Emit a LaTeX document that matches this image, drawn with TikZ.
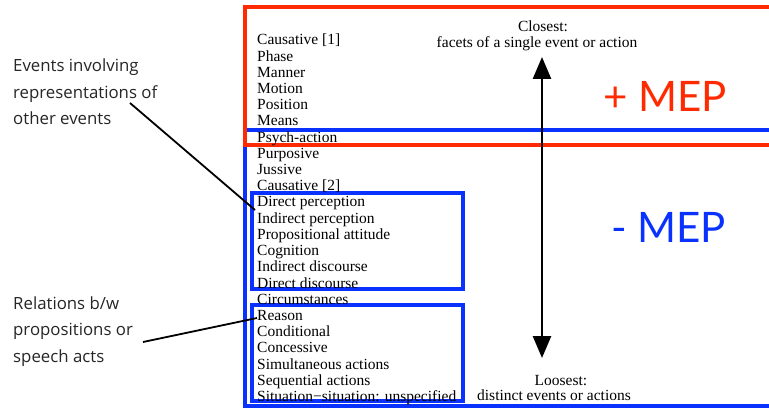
\documentclass[tikz,border=0pt]{standalone}
\usepackage{fontspec}
\setmainfont{Liberation Serif}
\newfontfamily\labelfont{Open Sans}
\newfontfamily\mepfont{Lato}
\usetikzlibrary{arrows.meta}
\definecolor{mepred}{HTML}{FF2A00}
\definecolor{mepblue}{HTML}{0A32FF}
\begin{document}
\begin{tikzpicture}[x=1pt,y=-1pt,
  item/.style={anchor=base west,inner sep=0pt,font=\fontsize{15.5}{16}\selectfont},
  scalecap/.style={anchor=base,inner sep=0pt,font=\fontsize{15.5}{16}\selectfont},
  side/.style={anchor=base west,inner sep=0pt,font=\labelfont\fontsize{16.8}{20}\selectfont,text=black!85},
  mep/.style={anchor=base west,inner sep=0pt,font=\mepfont\fontsize{42}{42}\selectfont},
  bluebox/.style={draw=mepblue,line width=3.8pt},
  redbox/.style={draw=mepred,line width=4pt},
  pointer/.style={draw=black,line width=1.8pt},
  scale arrow/.style={line width=2.6pt,{Triangle[width=18pt,length=22pt]}-{Triangle[width=18pt,length=22pt]}}]
\useasboundingbox (0,0) rectangle (769,409);
\fill[white] (0,0) rectangle (769,409);
% outer frames
\draw[bluebox,line width=3.5pt] (772,130) -- (245,130) -- (245,406) -- (772,406);
\draw[redbox] (772,7) -- (245,7) -- (245,145) -- (772,145);
% inner boxes
\draw[bluebox] (252,193) rectangle (463,289);
\draw[bluebox] (252,305) rectangle (463,401);
% list
\foreach \t [count=\i from 0] in {Causative [1],Phase,Manner,Motion,Position,Means,Psych-action,Purposive,Jussive,Causative [2],Direct perception,Indirect perception,Propositional attitude,Cognition,Indirect discourse,Direct discourse,Circumstances,Reason,Conditional,Concessive,Simultaneous actions,Sequential actions,Situation{\char"2212}situation: unspecified}
  \node[item] (l\i) at (257,45+16.2*\i) {\t};
% scale
\node[scalecap] (closest) at (543,32) {Closest:};
\node[scalecap] (facets) at (537,48) {facets of a single event or action};
\node[scalecap] (loosest) at (561,385) {Loosest:};
\node[scalecap] (distinct) at (554,400) {distinct events or actions};
\coordinate (top) at (542,57);
\coordinate (bot) at (542,358);
\draw[scale arrow] (top) -- (bot);
% MEP labels
\node[mep,text=mepred] (plus) at (603,112) {+ MEP};
\node[mep,text=mepblue] (minus) at (611,243) {- MEP};
% side labels
\node[side] (ev1) at (13,72) {Events involving};
\node[side] (ev2) at (13,98.5) {representations of};
\node[side] (ev3) at (13,125) {other events};
\node[side] (rel1) at (13,309) {Relations b/w};
\node[side] (rel2) at (13,335.5) {propositions or};
\node[side] (rel3) at (13,362) {speech acts};
\coordinate (p1) at (130,103);
\coordinate (e1) at (255,210);
\coordinate (p2) at (143,342);
\coordinate (e2) at (257,318);
\draw[pointer] (p1) -- (e1);
\draw[pointer] (p2) -- (e2);
\end{tikzpicture}
\end{document}
